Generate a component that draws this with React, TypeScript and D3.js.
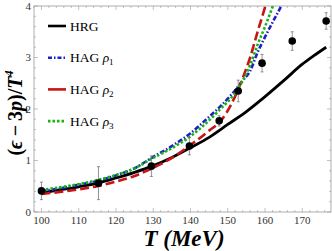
import React from 'react';
import * as d3 from 'd3';

const width = 332;
const height = 251;
const frame = {left: 34, right: 331, top: 6, bottom: 212};

// lattice points
const latticeT = [100, 115.3, 129.5, 139.7, 147.7, 152.8, 159.2, 167.3, 176.4];
const latticeVal = [0.41, 0.56, 0.89, 1.28, 1.77, 2.35, 2.89, 3.32, 3.71];
const latticeErr = [0.17, 0.32, 0.2, 0.17, 0.1, 0.21, 0.17, 0.18, 0.16];

const hrgT = [100, 105, 110, 115, 120, 125, 130, 135, 140, 145, 150, 155, 160, 165, 170, 173, 176.4];
const hrgVal = [0.37, 0.43, 0.49, 0.56, 0.66, 0.77, 0.9, 1.06, 1.25, 1.45, 1.7, 1.95, 2.24, 2.55, 2.87, 3.03, 3.2];

const hagT = [100, 105, 110, 115, 120, 125, 130, 135, 140, 145, 148, 151, 154, 156, 158, 160, 162, 164, 166];
const rho1 = [0.4, 0.46, 0.53, 0.6, 0.71, 0.85, 1.07, 1.28, 1.53, 1.85, 2.05, 2.28, 2.55, 2.74, 3.1, 3.4, 3.68, 3.95, 4.25];
const rho2 = [0.35, 0.39, 0.44, 0.5, 0.59, 0.7, 0.86, 1.05, 1.3, 1.58, 1.76, 2.1, 2.6, 3.0, 3.5, 3.98, 4.5, 5.0, 5.5];
const rho3 = [0.43, 0.48, 0.54, 0.62, 0.72, 0.85, 1.05, 1.24, 1.47, 1.78, 2.0, 2.22, 2.55, 2.85, 3.25, 3.6, 3.98, 4.35, 4.7];

const xTicks = [100, 110, 120, 130, 140, 150, 160, 170];
const yTicks = [0, 1, 2, 3, 4];

const series = [
  {name: 'HRG', sub: '', values: hrgVal, t: hrgT, color: '#000', dash: '', w: 2.8},
  {name: 'HAG ', sub: '1', values: rho1, t: hagT, color: '#1f1fc8', dash: '5,2,1.5,2', w: 2.6},
  {name: 'HAG ', sub: '2', values: rho2, t: hagT, color: '#c81414', dash: '9,4', w: 2.6},
  {name: 'HAG ', sub: '3', values: rho3, t: hagT, color: '#14b414', dash: '2.5,2', w: 2.6},
];
const legendDash = ['', '4,2,1.5,2', '', '2.5,2'];

const App: React.FC = () => {
  const x = d3.scaleLinear().domain([98, 177.7]).range([frame.left, frame.right]);
  const y = d3.scaleLinear().domain([0, 4]).range([frame.bottom, frame.top]);

  const line = d3.line<[number, number]>()
    .x(d => x(d[0]))
    .y(d => y(d[1]))
    .curve(d3.curveMonotoneX);

  const minorX = d3.range(98, 178, 2);
  const minorY = d3.range(0, 4.01, 0.2);
  const axisColor = '#999';
  const font = '"Liberation Serif", "DejaVu Serif", serif';

  return (
    <svg width={width} height={height} style={{position: 'absolute', left: 0, top: 0}} fontFamily={font}>
      <defs>
        <clipPath id="plot">
          <rect x={frame.left} y={frame.top} width={frame.right - frame.left} height={frame.bottom - frame.top}/>
        </clipPath>
      </defs>
      <rect x={frame.left} y={frame.top} width={frame.right - frame.left} height={frame.bottom - frame.top}
        fill="none" stroke={axisColor} strokeWidth={0.8}/>
      {minorX.map(t => {
        const major = t % 10 === 0;
        const l = major ? 4 : 2;
        return (
          <g key={'xt' + t} stroke={axisColor} strokeWidth={0.6}>
            <line x1={x(t)} x2={x(t)} y1={frame.bottom} y2={frame.bottom - l}/>
            <line x1={x(t)} x2={x(t)} y1={frame.top} y2={frame.top + l}/>
          </g>
        );
      })}
      {minorY.map(v => {
        const major = Math.abs(v - Math.round(v)) < 1e-6;
        const l = major ? 4 : 2;
        return (
          <g key={'yt' + v} stroke={axisColor} strokeWidth={0.6}>
            <line x1={frame.left} x2={frame.left + l} y1={y(v)} y2={y(v)}/>
            <line x1={frame.right} x2={frame.right - l} y1={y(v)} y2={y(v)}/>
          </g>
        );
      })}
      {xTicks.map(t => (
        <text key={'xl' + t} x={x(t)} y={frame.bottom + 12} textAnchor="middle" fontSize={11} fill="#333">{t}</text>
      ))}
      {yTicks.map(v => (
        <text key={'yl' + v} x={frame.left - 3} y={y(v) + 3.5} textAnchor="end" fontSize={11} fill="#333">{v}</text>
      ))}
      <g clipPath="url(#plot)">
        {series.map((s, i) => (
          <path key={'s' + i}
            d={line(s.t.map((t, j) => [t, s.values[j]] as [number, number])) || ''}
            fill="none" stroke={s.color} strokeWidth={s.w} strokeDasharray={s.dash}/>
        ))}
        {latticeT.map((t, i) => (
          <g key={'p' + i}>
            <line x1={x(t)} x2={x(t)} y1={y(latticeVal[i] - latticeErr[i])} y2={y(latticeVal[i] + latticeErr[i])}
              stroke="#777" strokeWidth={0.8}/>
            <line x1={x(t) - 1.5} x2={x(t) + 1.5} y1={y(latticeVal[i] - latticeErr[i])} y2={y(latticeVal[i] - latticeErr[i])}
              stroke="#777" strokeWidth={0.8}/>
            <line x1={x(t) - 1.5} x2={x(t) + 1.5} y1={y(latticeVal[i] + latticeErr[i])} y2={y(latticeVal[i] + latticeErr[i])}
              stroke="#777" strokeWidth={0.8}/>
            <circle cx={x(t)} cy={y(latticeVal[i])} r={3.8} fill="#000"/>
          </g>
        ))}
      </g>
      {series.map((s, i) => {
        const ly = 26 + i * 31.7;
        return (
          <g key={'lg' + i}>
            <line x1={48} x2={66} y1={ly} y2={ly} stroke={s.color} strokeWidth={2.6} strokeDasharray={legendDash[i]}/>
            <text x={70} y={ly + 4.5} fontSize={13.5} fill="#000">
              {s.name}
              {s.sub && <tspan fontStyle="italic">ρ</tspan>}
              {s.sub && <tspan fontSize={9} dy={3}>{s.sub}</tspan>}
            </text>
          </g>
        );
      })}
      <text transform={`translate(22, 113) rotate(-90)`} textAnchor="middle" fontSize={20} fontWeight="bold" fill="#000">
        (<tspan fontStyle="italic">ϵ</tspan>{'\u2009−\u20093'}<tspan fontStyle="italic">p</tspan>)/<tspan fontStyle="italic">T</tspan>
        <tspan fontSize={12} dy={-9} fontStyle="italic">4</tspan>
      </text>
      <text x={184} y={246} textAnchor="middle" fontSize={23} fontWeight="bold" fontStyle="italic" fill="#000">
        T (MeV)
      </text>
    </svg>
  );
};

export default App;
